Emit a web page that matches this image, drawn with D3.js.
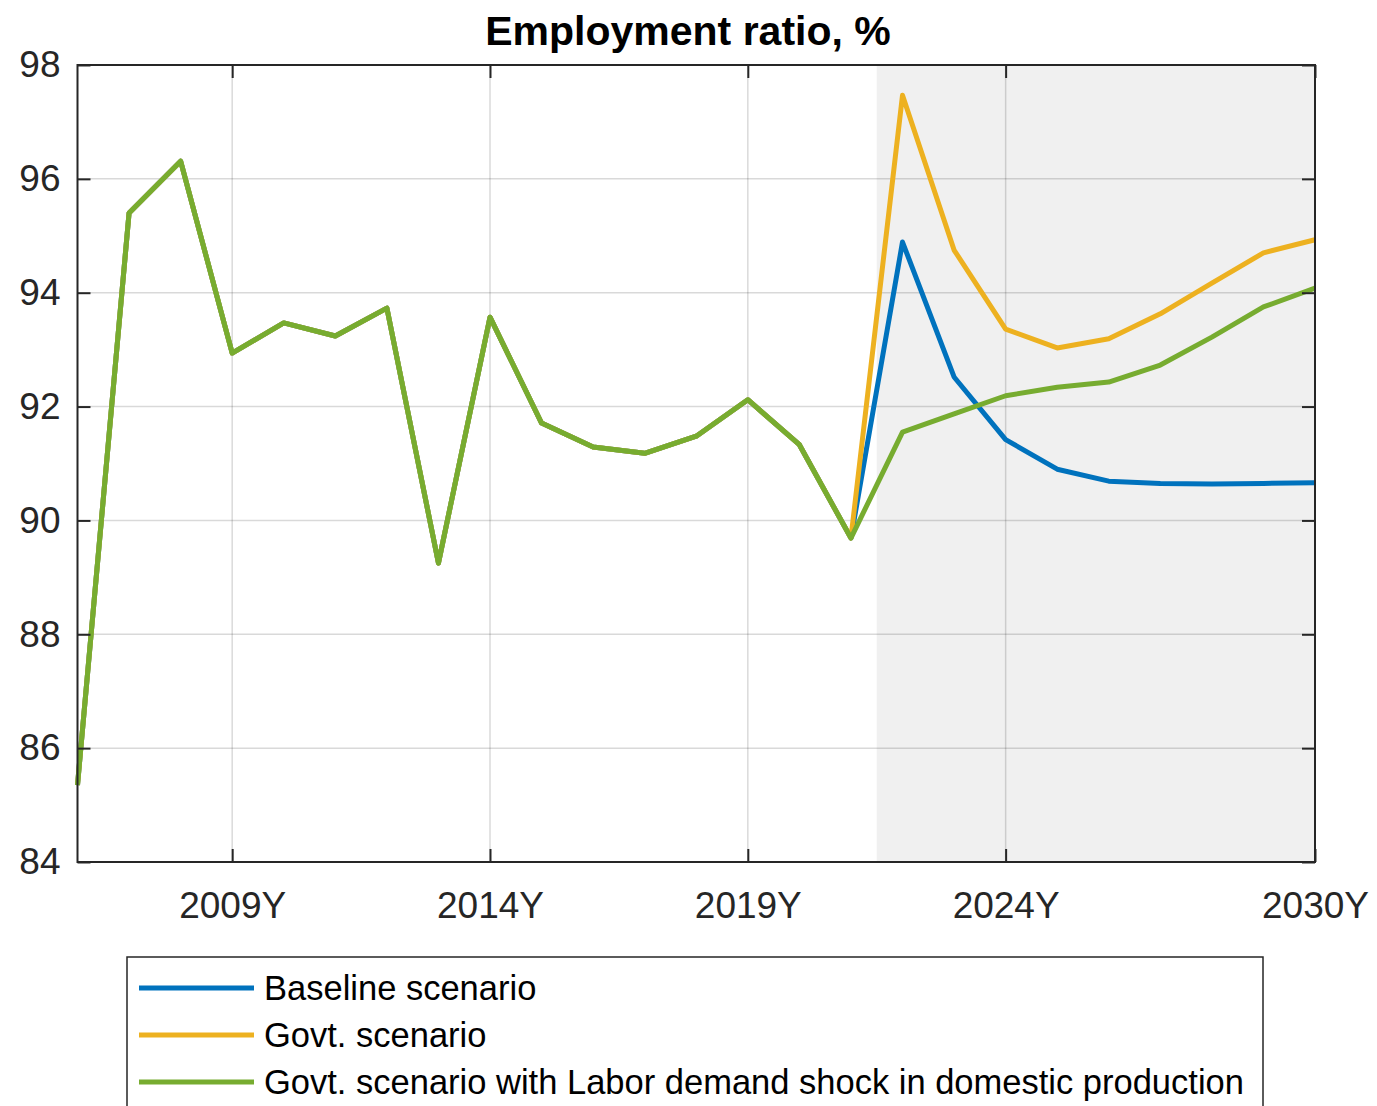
<!DOCTYPE html>
<html>
<head>
<meta charset="utf-8">
<script src="https://cdn.jsdelivr.net/npm/d3@7"></script>
<style>
  html, body { margin: 0; padding: 0; background: #fff; }
  svg { display: block; font-family: "Liberation Sans", Arial, Helvetica, sans-serif; }
</style>
</head>
<body>
<svg id="chart" width="1377" height="1106"></svg>
<script>
const title = "Employment ratio, %";
const years = d3.range(2006, 2031);
const history = [85.35, 95.40, 96.31, 92.94, 93.47, 93.24, 93.73, 89.25, 93.57, 91.71, 91.29, 91.18, 91.48, 92.12, 91.33, 89.69];
const baselineProj = [94.89, 92.52, 91.42, 90.90, 90.69, 90.65, 90.64, 90.65, 90.66];
const govtProj = [97.47, 94.75, 93.36, 93.03, 93.19, 93.63, 94.17, 94.70, 94.93];
const shockProj = [91.55, 91.87, 92.19, 92.34, 92.43, 92.73, 93.22, 93.75, 94.08];
const seriesNames = ["Baseline scenario", "Govt. scenario", "Govt. scenario with Labor demand shock in domestic production"];
const seriesColors = ["#0072BD", "#EDB120", "#77AC30"];
const xTicks = [2009, 2014, 2019, 2024, 2030];
const xTickLabels = ["2009Y", "2014Y", "2019Y", "2024Y", "2030Y"];
const yTicks = [84, 86, 88, 90, 92, 94, 96, 98];
const shadeStart = 2021.5;

const series = [
  history.concat(baselineProj),
  history.concat(govtProj),
  history.concat(shockProj)
];

const svg = d3.select("#chart");
const L = 77.5, R = 1315, T = 65, B = 862;
const x = d3.scaleLinear().domain([2006, 2030]).range([L, R]);
const y = d3.scaleLinear().domain([84, 98]).range([B, T]);
const axisColor = "#262626";

// shaded forecast region
svg.append("rect")
  .attr("x", x(shadeStart)).attr("y", T)
  .attr("width", x(2030) - x(shadeStart)).attr("height", B - T)
  .attr("fill", "#F0F0F0");

// grid
const grid = svg.append("g");
grid.selectAll("line.h").data(yTicks.slice(1, -1)).join("line")
  .attr("x1", L).attr("x2", R).attr("y1", d => y(d)).attr("y2", d => y(d))
  .attr("stroke", "#000").attr("stroke-opacity", 0.15).attr("stroke-width", 1.5);
grid.selectAll("line.v").data(xTicks.filter(d => d < 2030)).join("line")
  .attr("y1", T).attr("y2", B).attr("x1", d => x(d)).attr("x2", d => x(d))
  .attr("stroke", "#000").attr("stroke-opacity", 0.15).attr("stroke-width", 1.5);

// lines
const line = d3.line().x((d, i) => x(years[i])).y(d => y(d));
svg.append("g").selectAll("path").data(series).join("path")
  .attr("d", d => line(d))
  .attr("fill", "none")
  .attr("stroke", (d, i) => seriesColors[i])
  .attr("stroke-width", 5)
  .attr("stroke-linejoin", "round");

// axes box
svg.append("rect").attr("x", L).attr("y", T).attr("width", R - L).attr("height", B - T)
  .attr("fill", "none").attr("stroke", axisColor).attr("stroke-width", 2);

// axes with inward ticks
const tickLen = 13;
const xAxisB = d3.axisBottom(x).tickValues(xTicks).tickFormat((d, i) => xTickLabels[i]).tickSizeInner(-tickLen).tickSizeOuter(0).tickPadding(30);
const gxb = svg.append("g").attr("transform", `translate(0,${B})`).call(xAxisB);
const xAxisT = d3.axisTop(x).tickValues(xTicks).tickFormat("").tickSizeInner(-tickLen).tickSizeOuter(0);
const gxt = svg.append("g").attr("transform", `translate(0,${T})`).call(xAxisT);
const yAxisL = d3.axisLeft(y).tickValues(yTicks).tickFormat(d3.format("d")).tickSizeInner(-tickLen).tickSizeOuter(0).tickPadding(17);
const gyl = svg.append("g").attr("transform", `translate(${L},0)`).call(yAxisL);
const yAxisR = d3.axisRight(y).tickValues(yTicks).tickFormat("").tickSizeInner(-tickLen).tickSizeOuter(0);
const gyr = svg.append("g").attr("transform", `translate(${R},0)`).call(yAxisR);
[gxb, gxt, gyl, gyr].forEach(g => {
  g.select(".domain").remove();
  g.selectAll(".tick line").attr("stroke", axisColor).attr("stroke-width", 2);
  g.selectAll(".tick text").attr("fill", axisColor).attr("font-size", 37)
    .attr("font-family", '"Liberation Sans", Arial, sans-serif');
});
gxb.selectAll(".tick text").attr("dy", "0.71em");

// title
svg.append("text").attr("x", 688).attr("y", 45).attr("text-anchor", "middle")
  .attr("font-size", 41).attr("font-weight", "bold").attr("fill", "#000").text(title);

// legend
const lg = svg.append("g");
lg.append("rect").attr("x", 127).attr("y", 957).attr("width", 1136).attr("height", 170)
  .attr("fill", "#fff").attr("stroke", axisColor).attr("stroke-width", 1.5);
const rows = lg.selectAll("g.row").data(seriesNames).join("g")
  .attr("transform", (d, i) => `translate(0,${988 + i * 47})`);
rows.append("line").attr("x1", 139).attr("x2", 254).attr("y1", 0).attr("y2", 0)
  .attr("stroke", (d, i) => seriesColors[i]).attr("stroke-width", 5);
rows.append("text").attr("x", 264).attr("y", 0).attr("dy", "0.35em")
  .attr("font-size", 34.5).attr("fill", "#000").text(d => d);
</script>
</body>
</html>
